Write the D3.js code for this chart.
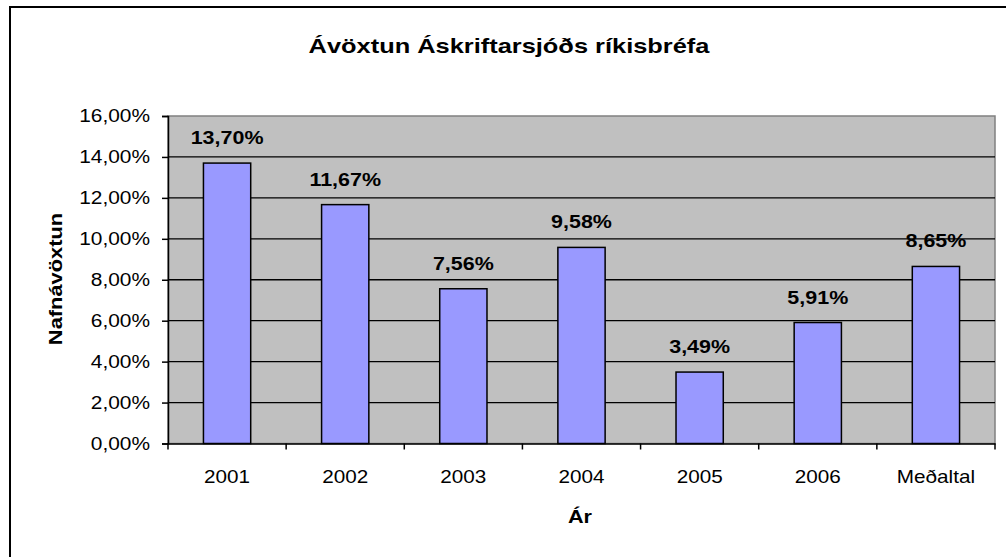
<!DOCTYPE html>
<html><head><meta charset="utf-8">
<script src="https://cdn.jsdelivr.net/npm/d3@7"></script>
<style>body{margin:0;background:#fff}svg{display:block}text{font-family:"Liberation Sans",Arial,sans-serif}</style>
</head><body>
<svg id="c" width="1006" height="557"></svg>
<script>
const categories = ["2001","2002","2003","2004","2005","2006","Meðaltal"];
const values = [13.70, 11.67, 7.56, 9.58, 3.49, 5.91, 8.65];
const yTicks = [0,2,4,6,8,10,12,14,16];
const title = "Ávöxtun Áskriftarsjóðs ríkisbréfa";
const yTitle = "Nafnávöxtun";
const xTitle = "Ár";

const SX = 1.16;
const FF = "Liberation Sans, Arial, sans-serif";
const svg = d3.select("#c");
const fmt = v => v.toFixed(2).replace(".", ",") + "%";
const L = 168, R = 995, T = 116, B = 443.5;

svg.append("rect").attr("x",10).attr("y",7).attr("width",1000).attr("height",560)
  .attr("fill","#fff").attr("stroke","#000").attr("stroke-width",2);

const x = d3.scaleBand().domain(categories).range([L,R]).paddingInner(0.6).paddingOuter(0.3);
const xb = d3.scaleBand().domain(categories).range([L,R]);
const y = d3.scaleLinear().domain([0,16]).range([B,T]);

svg.append("rect").attr("x",L).attr("y",T).attr("width",R-L).attr("height",B-T)
  .attr("fill","#C0C0C0").attr("stroke","#808080").attr("stroke-width",1.5);

svg.append("g").selectAll("line").data(yTicks.filter(d=>d>0 && d<16)).join("line")
  .attr("x1",L).attr("x2",R).attr("y1",d=>y(d)).attr("y2",d=>y(d))
  .attr("stroke","#000").attr("stroke-width",1.3);

svg.append("g").selectAll("rect").data(values).join("rect")
  .attr("x",(d,i)=>x(categories[i])).attr("width",x.bandwidth())
  .attr("y",d=>y(d)).attr("height",d=>B-y(d))
  .attr("fill","#9999FF").attr("stroke","#000").attr("stroke-width",1.5);

svg.append("g").selectAll("text").data(values).join("text")
  .attr("transform",(d,i)=>`translate(${x(categories[i])+x.bandwidth()/2},${y(d)-19}) scale(1.13,1)`)
  .attr("text-anchor","middle").attr("font-size",19).attr("font-weight","bold")
  .text(d=>fmt(d));

// y axis
const ya = svg.append("g").attr("transform",`translate(${L},0)`)
  .call(d3.axisLeft(y).tickValues(yTicks).tickSize(6).tickPadding(12).tickFormat(d=>fmt(d)));
ya.select(".domain").attr("stroke","#000").attr("stroke-width",1.5);
ya.selectAll("line").attr("stroke","#000").attr("stroke-width",1.5);
ya.selectAll("text").attr("font-size",18).attr("fill","#000").attr("font-family",FF)
  .attr("x",-18/SX).attr("transform",`scale(${SX},1)`);

// x axis
const xa = svg.append("g").attr("transform",`translate(0,${B})`)
  .call(d3.axisBottom(xb).tickSize(0).tickPadding(27));
xa.select(".domain").attr("stroke","#000").attr("stroke-width",1.5);
xa.selectAll("text").attr("font-size",18).attr("fill","#000").attr("font-family",FF)
  .attr("transform",`scale(1.15,1)`);
const bounds = categories.map(c=>xb(c)).concat([R]);
svg.append("g").selectAll("line").data(bounds).join("line")
  .attr("x1",d=>d).attr("x2",d=>d).attr("y1",B).attr("y2",B+6)
  .attr("stroke","#000").attr("stroke-width",1.5);

svg.append("text").attr("transform",`translate(509,53) scale(1.21,1)`).attr("text-anchor","middle")
  .attr("font-size",21).attr("font-weight","bold").text(title);
svg.append("text").attr("transform",`translate(62,279) rotate(-90) scale(1.15,1)`).attr("text-anchor","middle")
  .attr("font-size",19).attr("font-weight","bold").text(yTitle);
svg.append("text").attr("transform",`translate(580,523) scale(1.14,1)`).attr("text-anchor","middle")
  .attr("font-size",19).attr("font-weight","bold").text(xTitle);
</script>
</body></html>
